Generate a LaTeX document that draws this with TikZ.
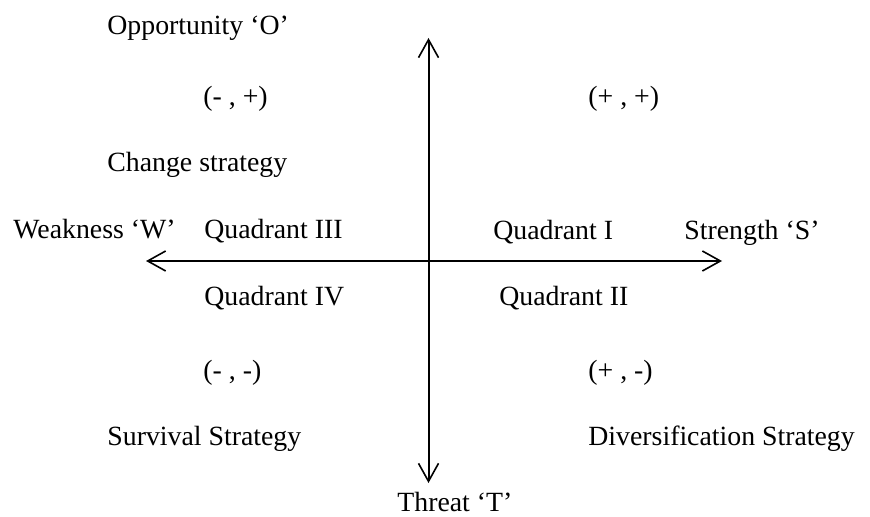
\documentclass[tikz,border=0pt]{standalone}
\usepackage{fontspec}
\setmainfont{Liberation Serif}
\usetikzlibrary{arrows.meta, positioning}

\begin{document}
\begin{tikzpicture}[
    x=0.5pt, y=-0.5pt,
    txt/.style={anchor=base west, inner sep=0pt, font=\fontsize{13.9}{16}\selectfont},
    axisarrow/.style={{Straight Barb[length=9pt, width=10pt, line width=0.8pt]}-{Straight Barb[length=9pt, width=10pt, line width=0.8pt]}, line width=1pt},
]
\useasboundingbox (0,0) rectangle (870,517);

% Axis ends
\coordinate (otop) at (428.5,38);
\coordinate (tbot) at (428.5,483);
\coordinate (wleft) at (146,261);
\coordinate (sright) at (722,261);

% Axes
\draw[axisarrow] (otop) -- (tbot);
\draw[axisarrow] (wleft) -- (sright);

% Axis names
\node[txt] (opp) at (107,35) {Opportunity ‘O’};
\node[txt] (weak) at (13,239) {Weakness ‘W’};
\node[txt] (str) at (684,240) {Strength ‘S’};
\node[txt] (thr) at (397,511) {Threat ‘T’};

% Quadrants
\node[txt] (q3) at (204,239) {Quadrant III};
\node[txt] (q1) at (493,240) {Quadrant I};
\node[txt] (q4) at (204,306) {Quadrant IV};
\node[txt] (q2) at (499,306) {Quadrant II};

% Signs
\node[txt] (mp) at (203,106) {(- , +)};
\node[txt] (pp) at (588,106) {(+ , +)};
\node[txt] (mm) at (203,379) {(- , -)};
\node[txt] (pm) at (588,379) {(+ , -)};

% Strategies
\node[txt] (change) at (107,172) {Change strategy};
\node[txt] (surv) at (107,445) {Survival Strategy};
\node[txt] (div) at (588,445) {Diversification Strategy};

\end{tikzpicture}
\end{document}
